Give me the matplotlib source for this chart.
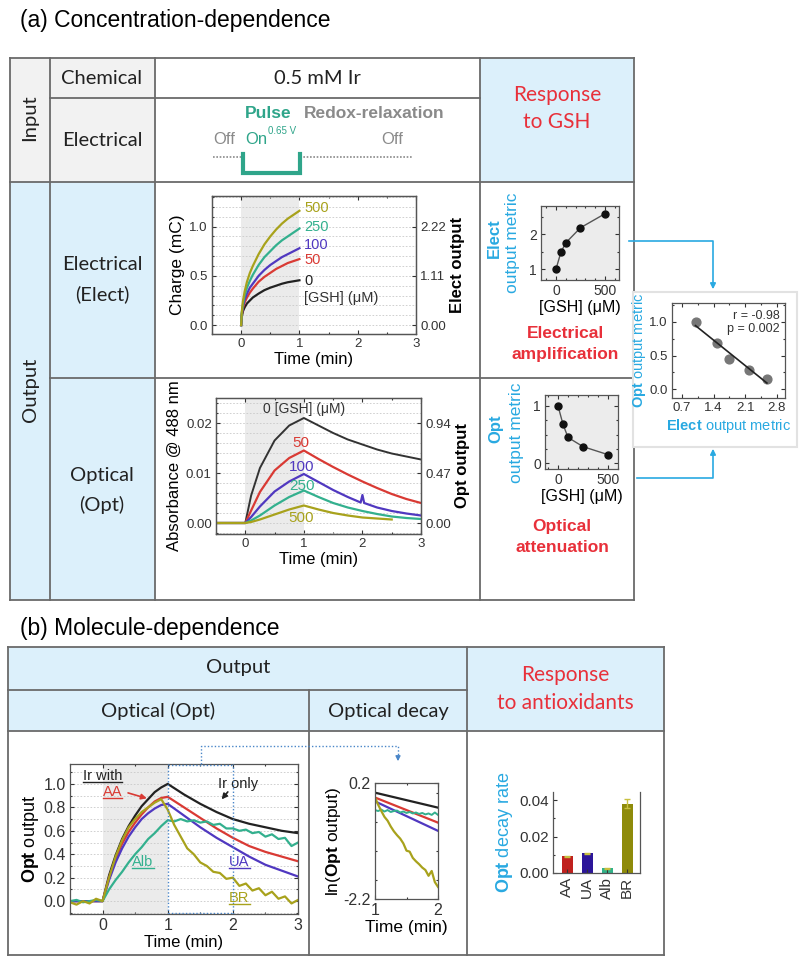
import matplotlib.pyplot as plt
import numpy as np
from matplotlib.patches import Rectangle
from matplotlib.ticker import MultipleLocator, FormatStrFormatter

plt.rcParams['font.family'] = ['Liberation Sans', 'DejaVu Sans']
plt.rcParams['mathtext.fontset'] = 'custom'
plt.rcParams['mathtext.rm'] = 'Liberation Sans'
plt.rcParams['mathtext.bf'] = 'Liberation Sans:bold'
plt.rcParams['mathtext.it'] = 'Liberation Sans:italic'

# ---- data: (a) charge vs time ----
t_charge = [0, 0.01, 0.03, 0.06, 0.1, 0.15, 0.2, 0.3, 0.4, 0.5, 0.6, 0.7, 0.8, 0.9, 1.0]
q_0 = [0, 0.08, 0.14, 0.18, 0.22, 0.25, 0.28, 0.32, 0.355, 0.38, 0.40, 0.42, 0.435, 0.445, 0.455]
q_50 = [0, 0.10, 0.17, 0.23, 0.28, 0.33, 0.37, 0.44, 0.49, 0.53, 0.57, 0.60, 0.63, 0.65, 0.67]
q_100 = [0, 0.11, 0.19, 0.26, 0.32, 0.38, 0.42, 0.50, 0.56, 0.61, 0.65, 0.69, 0.72, 0.75, 0.78]
q_250 = [0, 0.12, 0.21, 0.30, 0.38, 0.45, 0.51, 0.61, 0.69, 0.75, 0.81, 0.86, 0.90, 0.94, 0.98]
q_500 = [0, 0.13, 0.24, 0.34, 0.44, 0.53, 0.60, 0.72, 0.82, 0.90, 0.97, 1.03, 1.08, 1.12, 1.16]

# ---- data: (a) absorbance vs time ----
t_abs = [-0.5, 0, 0.1, 0.25, 0.5, 0.75, 1.0, 1.25, 1.5, 1.75, 2.0, 2.25, 2.5, 2.75, 3.0]
a_0 = [0, 0, 0.0055, 0.011, 0.0165, 0.0195, 0.021, 0.0195, 0.018, 0.0167, 0.0157, 0.0147, 0.0139, 0.0133, 0.0127]
a_50 = [0, 0, 0.0025, 0.0062, 0.0105, 0.0130, 0.0145, 0.0128, 0.0112, 0.0097, 0.0083, 0.0070, 0.0058, 0.0048, 0.0040]
t_abs100 = [-0.5, 0, 0.1, 0.25, 0.5, 0.75, 1.0, 1.25, 1.5, 1.75, 1.97, 2.0, 2.03, 2.25, 2.5, 2.75, 3.0]
a_100 = [0, 0, 0.0012, 0.0033, 0.0063, 0.0083, 0.0098, 0.0082, 0.0066, 0.0052, 0.0041, 0.0056, 0.0040, 0.0031, 0.0024, 0.0019, 0.0015]
a_250 = [0, 0, 0.0005, 0.0015, 0.0035, 0.0052, 0.0065, 0.0052, 0.0040, 0.0031, 0.0024, 0.0018, 0.0013, 0.0010, 0.0008]
t_abs500 = [-0.5, 0, 0.1, 0.25, 0.5, 0.75, 1.0, 1.25, 1.5, 1.75, 2.0, 2.25, 2.5]
a_500 = [0, 0, 0.0002, 0.0007, 0.0017, 0.0027, 0.0035, 0.0027, 0.0020, 0.0015, 0.0011, 0.0009, 0.0007]

# ---- data: (a) output metrics ----
gsh = [0, 50, 100, 250, 500]
elect_metric = [1.0, 1.48, 1.75, 2.18, 2.58]
opt_metric = [1.0, 0.68, 0.45, 0.29, 0.15]

# ---- data: (b) opt output vs time ----
t_b = [-0.5, 0, 0.1, 0.2, 0.3, 0.4, 0.5, 0.6, 0.7, 0.8, 0.9, 1.0, 1.25, 1.5, 1.75, 2.0, 2.25, 2.5, 2.75, 3.0]
ir_only = [0, 0, 0.22, 0.39, 0.53, 0.64, 0.73, 0.81, 0.87, 0.93, 0.97, 1.0, 0.91, 0.83, 0.76, 0.70, 0.66, 0.63, 0.60, 0.58]
ir_aa = [0, 0, 0.20, 0.36, 0.49, 0.59, 0.67, 0.74, 0.80, 0.85, 0.88, 0.89, 0.80, 0.71, 0.62, 0.54, 0.47, 0.42, 0.38, 0.34]
ir_ua = [0, 0, 0.18, 0.33, 0.45, 0.55, 0.63, 0.70, 0.75, 0.79, 0.82, 0.83, 0.73, 0.63, 0.54, 0.46, 0.38, 0.31, 0.26, 0.21]
t_noisy = [-0.5, -0.4, -0.3, -0.2, -0.1, 0, 0.1, 0.2, 0.3, 0.4, 0.5, 0.6, 0.7, 0.8, 0.9, 1.0,
           1.1, 1.2, 1.3, 1.4, 1.5, 1.6, 1.7, 1.8, 1.9, 2.0, 2.1, 2.2, 2.3, 2.4, 2.5, 2.6, 2.7, 2.8, 2.9, 3.0]
ir_alb = [0.0, 0.01, -0.01, 0.0, 0.01, 0.0, 0.10, 0.18, 0.25, 0.33, 0.40, 0.46, 0.53, 0.58, 0.64, 0.69,
          0.68, 0.70, 0.68, 0.69, 0.67, 0.68, 0.65, 0.66, 0.62, 0.62, 0.60, 0.61, 0.58, 0.59, 0.55, 0.57, 0.53, 0.54, 0.47, 0.50]
ir_br = [-0.01, -0.03, 0.0, -0.02, 0.02, 0.0, 0.20, 0.38, 0.52, 0.63, 0.70, 0.76, 0.80, 0.84, 0.87, 0.78,
         0.65, 0.55, 0.45, 0.40, 0.33, 0.30, 0.25, 0.24, 0.19, 0.20, 0.13, 0.15, 0.09, 0.11, 0.05, 0.08, 0.02, 0.04, -0.02, 0.01]

# ---- data: (b) ln(opt output) during decay ----
t_ln = [1.0, 2.0]
ln_ir = [0.0, -0.31]
ln_aa = [-0.10, -0.62]
ln_ua = [-0.18, -0.79]
t_ln_noisy = [1.0, 1.05, 1.1, 1.15, 1.2, 1.25, 1.3, 1.35, 1.4, 1.45, 1.5, 1.55, 1.6, 1.65, 1.7, 1.75, 1.8, 1.85, 1.9, 1.95, 2.0]
ln_alb = [-0.36, -0.38, -0.35, -0.39, -0.36, -0.40, -0.38, -0.37, -0.41, -0.39, -0.42, -0.40, -0.43, -0.41, -0.44, -0.42, -0.45, -0.43, -0.46, -0.41, -0.46]
ln_br = [-0.10, -0.25, -0.38, -0.50, -0.58, -0.70, -0.80, -0.88, -0.95, -1.05, -1.20, -1.22, -1.35, -1.42, -1.48, -1.55, -1.60, -1.72, -1.62, -1.85, -1.95]

# ---- data: (b) decay rates ----
molecules = ['AA', 'UA', 'Alb', 'BR']
decay_rate = [0.0092, 0.0108, 0.0025, 0.038]
decay_err = [0.0004, 0.0004, 0.0005, 0.0025]

# colours
K = '#222222'
RED = '#d93a34'
PUR = '#5038c0'
TEAL = '#33b08e'
OLIVE = '#a8a21c'
CYAN = '#29a9e1'
HEAD = '#e8303a'
GREEN = '#2fa58a'
LBLUE = '#dcf0fb'
LGRAY = '#f2f2f2'
LINE = '#6a6a6a'
TFONT = 'Lato'

W, H = 800, 973
fig = plt.figure(figsize=(W / 100, H / 100), dpi=100)


def axes_px(l, t, r, b, **kw):
    return fig.add_axes([l / W, 1 - b / H, (r - l) / W, (b - t) / H], **kw)


bg = axes_px(0, 0, W, H)
bg.set_xlim(0, W)
bg.set_ylim(H, 0)
bg.axis('off')


def cell(x0, y0, x1, y1, fc):
    bg.add_patch(Rectangle((x0, y0), x1 - x0, y1 - y0, facecolor=fc, edgecolor='none', zorder=0))


def hline(y, x0, x1):
    bg.plot([x0, x1], [y, y], color=LINE, lw=1.3, zorder=1)


def vline(x, y0, y1):
    bg.plot([x, x], [y0, y1], color=LINE, lw=1.3, zorder=1)


def ttext(x, y, s, size=14.5, color='#222222', **kw):
    bg.text(x, y, s, ha='center', va='center', fontsize=size, color=color, family=TFONT, **kw)


# ================= panel (a) table =================
bg.text(20, 20, '(a) Concentration-dependence', fontsize=16.5, va='center', ha='left')

cell(10, 58, 50, 182, LGRAY)
cell(50, 58, 155, 182, LGRAY)
cell(480, 58, 634, 182, LBLUE)
cell(10, 182, 50, 600, LBLUE)
cell(50, 182, 155, 600, LBLUE)
for y in [58, 182, 600]:
    hline(y, 10, 634)
hline(98, 50, 480)
hline(378, 50, 634)
for x in [10, 50, 155, 480, 634]:
    vline(x, 58, 600)

ttext(30, 118, 'Input', rotation=90)
ttext(30, 390, 'Output', rotation=90)
ttext(102, 78, 'Chemical')
ttext(102, 140, 'Electrical')
ttext(102, 265, 'Electrical')
ttext(102, 294, '(Elect)')
ttext(102, 476, 'Optical')
ttext(102, 505, '(Opt)')
ttext(317, 78, '0.5 mM Ir')
ttext(557, 95, 'Response', color=HEAD, size=15)
ttext(557, 122, 'to GSH', color=HEAD, size=15)

# electrical input waveform
bg.text(268, 114, 'Pulse', color=GREEN, fontsize=12.5, weight='bold', ha='center', va='center')
bg.text(374, 114, 'Redox-relaxation', color='#8a8a8a', fontsize=12.5, weight='bold', ha='center', va='center')
bg.text(224, 139, 'Off', color='#8a8a8a', fontsize=12, ha='center', va='center')
bg.text(256, 139, 'On', color=GREEN, fontsize=12, ha='center', va='center')
bg.text(268, 131, '0.65 V', color=GREEN, fontsize=7, ha='left', va='center')
bg.text(392, 139, 'Off', color='#8a8a8a', fontsize=12, ha='center', va='center')
bg.plot([213, 242], [157, 157], color='#8a8a8a', lw=1.2, ls=(0, (1, 1)))
bg.plot([300, 413], [157, 157], color='#8a8a8a', lw=1.2, ls=(0, (1, 1)))
bg.plot([243, 243, 300, 300], [154, 173, 173, 154], color=GREEN, lw=3, solid_joinstyle='miter')

# red labels
bg.text(565, 333, 'Electrical', color=HEAD, fontsize=12.5, weight='bold', ha='center', va='center')
bg.text(565, 354, 'amplification', color=HEAD, fontsize=12.5, weight='bold', ha='center', va='center')
bg.text(562, 527, 'Optical', color=HEAD, fontsize=12.5, weight='bold', ha='center', va='center')
bg.text(562, 548, 'attenuation', color=HEAD, fontsize=12.5, weight='bold', ha='center', va='center')

# metric y-labels
bg.text(494, 238, 'Elect', color=CYAN, fontsize=12, weight='bold', rotation=90, ha='center', va='center')
bg.text(513, 243, 'output metric', color=CYAN, fontsize=12.5, rotation=90, ha='center', va='center')
bg.text(496, 429, 'Opt', color=CYAN, fontsize=12, weight='bold', rotation=90, ha='center', va='center')
bg.text(516, 433, 'output metric', color=CYAN, fontsize=12.5, rotation=90, ha='center', va='center')

# scatter box + connectors
bg.add_patch(Rectangle((633, 292), 164, 155, facecolor='white', edgecolor='#e2e2e2', lw=1.5, zorder=3))
bg.plot([629, 713, 713], [241, 241, 284], color=CYAN, lw=1.2, zorder=4)
bg.annotate('', xy=(713, 292), xytext=(713, 282),
            arrowprops=dict(arrowstyle='-|>', color=CYAN, lw=1.2, mutation_scale=8), zorder=4)
bg.plot([637, 713, 713], [478, 478, 454], color=CYAN, lw=1.2, zorder=4)
bg.annotate('', xy=(713, 446), xytext=(713, 456),
            arrowprops=dict(arrowstyle='-|>', color=CYAN, lw=1.2, mutation_scale=8), zorder=4)

# ================= panel (b) table =================
bg.text(20, 628, '(b) Molecule-dependence', fontsize=16.5, va='center', ha='left')
cell(8, 647, 664, 731, LBLUE)
for y in [647, 731, 955]:
    hline(y, 8, 664)
hline(690, 8, 467)
for x in [8, 467, 664]:
    vline(x, 647, 955)
vline(309, 690, 955)
ttext(238, 668, 'Output')
ttext(158, 711, 'Optical (Opt)')
ttext(388, 711, 'Optical decay')
ttext(565, 675, 'Response', color=HEAD, size=15)
ttext(565, 703, 'to antioxidants', color=HEAD, size=15)


def style(ax, right=True, size=9.5):
    ax.tick_params(direction='in', which='both', top=True, right=right, labelsize=size,
                   length=3, width=0.8, colors='#333333', pad=3)
    ax.tick_params(which='minor', length=1.6)
    for s in ax.spines.values():
        s.set_color('#555555')
        s.set_linewidth(0.9)


def hgrid(ax, step):
    ax.yaxis.set_minor_locator(MultipleLocator(step))
    ax.grid(which='both', axis='y', color='#c9c9c9', lw=0.6, ls=(0, (2, 2)))
    ax.set_axisbelow(True)


# ---- charge plot ----
ax1 = axes_px(212, 196, 416, 334)
ax1.axvspan(0, 1, color='#ebebeb', zorder=0, lw=0)
for t, q, c in [(t_charge, q_0, K), (t_charge, q_50, RED), (t_charge, q_100, PUR),
                (t_charge, q_250, TEAL), (t_charge, q_500, OLIVE)]:
    ax1.plot(t, q, color=c, lw=1.6)
ax1.set_xlim(-0.5, 3)
ax1.set_ylim(-0.09, 1.31)
ax1.set_xticks([0, 1, 2, 3])
ax1.set_yticks([0, 0.5, 1.0])
ax1.yaxis.set_major_formatter(FormatStrFormatter('%.1f'))
ax1.xaxis.set_minor_locator(MultipleLocator(0.5))
hgrid(ax1, 0.1)
style(ax1, right=False)
ax1.set_xlabel('Time (min)', fontsize=12, labelpad=1)
ax1.set_ylabel('Charge (mC)', fontsize=12.5, labelpad=3)
for s, y, c in [('500', 1.19, OLIVE), ('250', 1.0, TEAL), ('100', 0.815, PUR), ('50', 0.66, RED), ('0', 0.45, K)]:
    ax1.text(1.08, y, s, color=c, fontsize=10.5, va='center')
ax1.text(1.08, 0.28, '[GSH] (μM)', color='#333333', fontsize=10.5, va='center')
ax1r = ax1.twinx()
ax1r.set_ylim(-0.09 * 2.22, 1.31 * 2.22)
ax1r.set_yticks([0, 1.11, 2.22])
ax1r.yaxis.set_major_formatter(FormatStrFormatter('%.2f'))
style(ax1r)
ax1r.set_ylabel('Elect output', fontsize=12, weight='bold', labelpad=3)

# ---- absorbance plot ----
ax2 = axes_px(216, 398, 421, 534)
ax2.axvspan(0, 1, color='#ebebeb', zorder=0, lw=0)
ax2.plot(t_abs, a_0, color='#333333', lw=1.4)
ax2.plot(t_abs, a_50, color=RED, lw=1.6)
ax2.plot(t_abs100, a_100, color=PUR, lw=1.6)
ax2.plot(t_abs, a_250, color=TEAL, lw=1.6)
ax2.plot(t_abs500, a_500, color=OLIVE, lw=1.6)
ax2.set_xlim(-0.5, 3)
ax2.set_ylim(-0.0022, 0.025)
ax2.set_xticks([0, 1, 2, 3])
ax2.set_yticks([0, 0.01, 0.02])
ax2.yaxis.set_major_formatter(FormatStrFormatter('%.2f'))
ax2.xaxis.set_minor_locator(MultipleLocator(0.5))
hgrid(ax2, 0.002)
style(ax2, right=False)
ax2.set_xlabel('Time (min)', fontsize=12, labelpad=1)
ax2.set_ylabel('Absorbance @ 488 nm', fontsize=12, labelpad=3)
ax2.text(1.0, 0.0228, '0 [GSH] (μM)', color='#333333', fontsize=10, ha='center', va='center')
ax2.text(0.95, 0.0160, '50', color=RED, fontsize=11, ha='center', va='center')
ax2.text(0.97, 0.0113, '100', color=PUR, fontsize=11, ha='center', va='center')
ax2.text(0.97, 0.0074, '250', color=TEAL, fontsize=11, ha='center', va='center')
ax2.text(0.95, 0.0010, '500', color=OLIVE, fontsize=11, ha='center', va='center')
ax2r = ax2.twinx()
ax2r.set_ylim(-0.0022 * 47, 0.025 * 47)
ax2r.set_yticks([0, 0.47, 0.94])
ax2r.yaxis.set_major_formatter(FormatStrFormatter('%.2f'))
style(ax2r)
ax2r.set_ylabel('Opt output', fontsize=12, weight='bold', labelpad=3)

# ---- elect metric vs GSH ----
ax3 = axes_px(541, 206, 619, 280, facecolor='#ececec')
ax3.plot(gsh, elect_metric, color='#555555', lw=1, marker='o', ms=5, mfc='#111111', mec='#111111')
ax3.set_xlim(-153, 643)
ax3.set_ylim(0.69, 2.8)
ax3.set_xticks([0, 500])
ax3.set_yticks([1, 2])
ax3.xaxis.set_minor_locator(MultipleLocator(100))
ax3.yaxis.set_minor_locator(MultipleLocator(0.5))
style(ax3, size=10)
ax3.set_xlabel('[GSH] (μM)', fontsize=11.5, labelpad=1)

# ---- opt metric vs GSH ----
ax4 = axes_px(545, 395, 618, 469, facecolor='#ececec')
ax4.plot(gsh, opt_metric, color='#555555', lw=1, marker='o', ms=5, mfc='#111111', mec='#111111')
ax4.set_xlim(-130, 600)
ax4.set_ylim(-0.1, 1.19)
ax4.set_xticks([0, 500])
ax4.set_yticks([0, 1])
ax4.xaxis.set_minor_locator(MultipleLocator(100))
ax4.yaxis.set_minor_locator(MultipleLocator(0.25))
style(ax4, size=10)
ax4.set_xlabel('[GSH] (μM)', fontsize=11.5, labelpad=1)

# ---- correlation ----
ax5 = axes_px(672, 303, 785, 398)
ax5.scatter(elect_metric, opt_metric, s=40, color='#777777', zorder=3)
fit = np.polyfit(elect_metric, opt_metric, 1)
xf = np.array([min(elect_metric), max(elect_metric)])
ax5.plot(xf, np.polyval(fit, xf), color='#222222', lw=1.2, zorder=4)
ax5.set_xlim(0.48, 2.98)
ax5.set_ylim(-0.13, 1.28)
ax5.set_xticks([0.7, 1.4, 2.1, 2.8])
ax5.set_yticks([0, 0.5, 1.0])
ax5.yaxis.set_major_formatter(FormatStrFormatter('%.1f'))
ax5.xaxis.set_minor_locator(MultipleLocator(0.35))
ax5.yaxis.set_minor_locator(MultipleLocator(0.25))
style(ax5)
ax5.text(0.95, 0.93, 'r = -0.98\np = 0.002', transform=ax5.transAxes, ha='right', va='top',
         fontsize=9, color='#333333', linespacing=1.1)
ax5.set_xlabel(r'$\bf{Elect}$ output metric', color=CYAN, fontsize=10.5, labelpad=2)
ax5.set_ylabel(r'$\bf{Opt}$ output metric', color=CYAN, fontsize=10.5, labelpad=1)

# ---- (b) opt output vs time ----
ax6 = axes_px(70, 764, 298, 914)
ax6.axvspan(0, 1, color='#ebebeb', zorder=0, lw=0)
ax6.plot(t_b, ir_only, color=K, lw=1.6)
ax6.plot(t_b, ir_aa, color=RED, lw=1.6)
ax6.plot(t_b, ir_ua, color=PUR, lw=1.6)
ax6.plot(t_noisy, ir_alb, color=TEAL, lw=1.6)
ax6.plot(t_noisy, ir_br, color=OLIVE, lw=1.6)
ax6.set_xlim(-0.5, 3)
ax6.set_ylim(-0.11, 1.17)
ax6.set_xticks([0, 1, 2, 3])
ax6.set_yticks([0, 0.2, 0.4, 0.6, 0.8, 1.0])
ax6.yaxis.set_major_formatter(FormatStrFormatter('%.1f'))
ax6.xaxis.set_minor_locator(MultipleLocator(0.5))
hgrid(ax6, 0.1)
style(ax6, size=11.5)
for xv in [1, 2]:
    ax6.axvline(xv, color='#4a86c8', lw=1, ls=(0, (1, 1.5)), zorder=5)
ax6.plot([1, 2], [1.165, 1.165], color='#4a86c8', lw=1, ls=(0, (1, 1.5)), zorder=5)
ax6.plot([1, 2], [-0.105, -0.105], color='#4a86c8', lw=1, ls=(0, (1, 1.5)), zorder=5)
ax6.set_xlabel('Time (min)', fontsize=12, labelpad=1)
ax6.set_ylabel(r'$\bf{Opt}$ output', fontsize=13, labelpad=2)
underlined = []
underlined.append((ax6.text(0.0, 1.07, 'Ir with', fontsize=10.5, ha='center', va='center', color=K), K))
underlined.append((ax6.text(0.15, 0.93, 'AA', fontsize=10.5, ha='center', va='center', color=RED), RED))
ax6.annotate('', xy=(0.72, 0.87), xytext=(0.35, 0.93),
             arrowprops=dict(arrowstyle='-|>', color=RED, lw=1.2, mutation_scale=8))
ax6.text(2.08, 1.0, 'Ir only', fontsize=10.5, ha='center', va='center', color=K)
ax6.annotate('', xy=(1.8, 0.85), xytext=(1.95, 0.95),
             arrowprops=dict(arrowstyle='-|>', color=K, lw=1.2, mutation_scale=8))
underlined.append((ax6.text(0.62, 0.33, 'Alb', fontsize=10.5, ha='center', va='center', color=TEAL), TEAL))
underlined.append((ax6.text(2.1, 0.33, 'UA', fontsize=10.5, ha='center', va='center', color=PUR), PUR))
underlined.append((ax6.text(2.1, 0.03, 'BR', fontsize=10.5, ha='center', va='center', color=OLIVE), OLIVE))

# ---- (b) ln decay ----
ax7 = axes_px(375, 783, 438, 899)
ax7.plot(t_ln, ln_ir, color=K, lw=1.6)
ax7.plot(t_ln, ln_aa, color=RED, lw=1.6)
ax7.plot(t_ln, ln_ua, color=PUR, lw=1.6)
ax7.plot(t_ln_noisy, ln_alb, color=TEAL, lw=1.4)
ax7.plot(t_ln_noisy, ln_br, color=OLIVE, lw=1.6)
ax7.set_xlim(1, 2)
ax7.set_ylim(-2.2, 0.2)
ax7.set_xticks([1, 2])
ax7.set_yticks([-2.2, 0.2])
ax7.yaxis.set_major_formatter(FormatStrFormatter('%.1f'))
ax7.xaxis.set_minor_locator(MultipleLocator(0.5))
ax7.yaxis.set_minor_locator(MultipleLocator(0.6))
style(ax7, size=11.5)
ax7.set_xlabel('Time (min)', fontsize=12.5, labelpad=1)
ax7.set_ylabel(r'ln($\bf{Opt}$ output)', fontsize=12.5, labelpad=0)

# ---- (b) decay rate bars ----
ax8 = axes_px(553, 792, 640, 873)
ax8.bar(range(len(molecules)), decay_rate, width=0.55, yerr=decay_err,
        color=['#c0211e', '#2c1699', '#31b28a', '#8e8b0a'],
        error_kw=dict(ecolor='#c8c040', lw=1, capsize=2))
ax8.set_xlim(-0.7, 3.65)
ax8.set_ylim(0, 0.0445)
ax8.set_xticks(range(len(molecules)))
ax8.set_xticklabels(molecules, rotation=90)
ax8.set_yticks([0, 0.02, 0.04])
ax8.yaxis.set_major_formatter(FormatStrFormatter('%.2f'))
ax8.yaxis.set_minor_locator(MultipleLocator(0.01))
style(ax8, right=False, size=11)
ax8.tick_params(top=False)
ax8.spines['top'].set_visible(False)
ax8.set_ylabel(r'$\bf{Opt}$ decay rate', color=CYAN, fontsize=13, labelpad=3)

# overlay connector for (b)
fg = axes_px(0, 0, W, H)
fg.set_xlim(0, W)
fg.set_ylim(H, 0)
fg.axis('off')
fg.plot([201, 201, 398, 398], [764, 746, 746, 756], color='#4a86c8', lw=1, ls=(0, (1, 1.5)))
fg.annotate('', xy=(398, 764), xytext=(398, 755),
            arrowprops=dict(arrowstyle='-|>', color='#4a86c8', lw=1, mutation_scale=7))

# underline the curve labels
fig.canvas.draw()
renderer = fig.canvas.get_renderer()
inv = fg.transData.inverted()
for txt, c in underlined:
    bb = txt.get_window_extent(renderer)
    (x0, y0), (x1, _) = inv.transform([(bb.x0, bb.y0), (bb.x1, bb.y0)])
    fg.plot([x0, x1], [y0 - 1, y0 - 1], color=c, lw=1)

fig.savefig('out.png', dpi=100)
